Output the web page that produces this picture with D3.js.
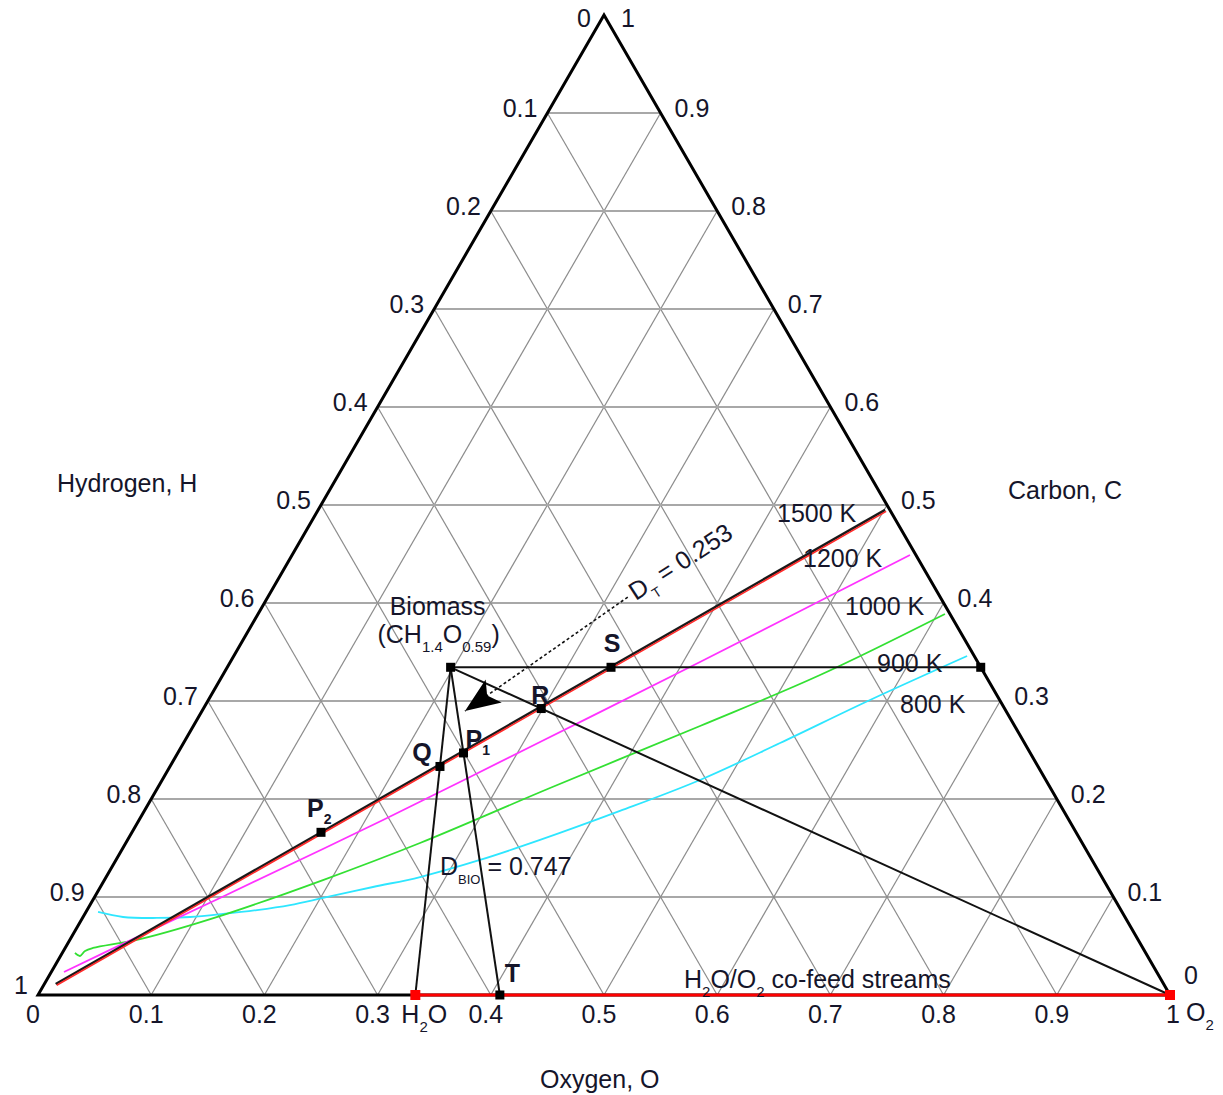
<!DOCTYPE html>
<html>
<head>
<meta charset="utf-8">
<script src="https://cdn.jsdelivr.net/npm/d3@7"></script>
<style>
  body { margin: 0; background: #fff; }
  svg { display: block; }
  text { font-family: "Liberation Sans", Arial, sans-serif; fill: #15152a; }
</style>
</head>
<body>
<svg id="chart" width="1223" height="1095"></svg>
<script>
// Ternary C–H–O diagram. Every point is [O fraction, C fraction]; H = 1 - O - C.

const gridSteps = [0.1, 0.2, 0.3, 0.4, 0.5, 0.6, 0.7, 0.8, 0.9];
const tickValues = [0, 0.1, 0.2, 0.3, 0.4, 0.5, 0.6, 0.7, 0.8, 0.9, 1];
const tickLabels = ["0", "0.1", "0.2", "0.3", "0.4", "0.5", "0.6", "0.7", "0.8", "0.9", "1"];

// carbon-deposition boundaries at several temperatures
const tempLabels = ["1500 K", "1200 K", "1000 K", "900 K", "800 K"];
const curve1500 = [[0.0100, 0.0112], [0.5008, 0.4950]];
const curve1200 = [[0.0115, 0.0100], [0.5025, 0.4935]];
const curve1000 = [[0.0112, 0.0235], [0.0579, 0.0592], [0.1113, 0.0990], [0.2155, 0.1786],
                   [0.3144, 0.2582], [0.4149, 0.3398], [0.5458, 0.4490]];
const curve900 = [[0.0112, 0.0429], [0.0172, 0.0398], [0.0191, 0.0449], [0.0246, 0.0480],
                  [0.0616, 0.0571], [0.1226, 0.0816], [0.1931, 0.1173], [0.2599, 0.1551],
                  [0.3467, 0.2112], [0.4476, 0.2745], [0.5276, 0.3265], [0.6068, 0.3888]];
const curve800 = [[0.0107, 0.0847], [0.0353, 0.0796], [0.0658, 0.0786], [0.0945, 0.0796],
                  [0.1221, 0.0827], [0.1501, 0.0867], [0.1767, 0.0918], [0.2023, 0.0990],
                  [0.2408, 0.1102], [0.2773, 0.1204], [0.3216, 0.1378], [0.3644, 0.1582],
                  [0.4202, 0.1878], [0.4751, 0.2194], [0.5270, 0.2571], [0.5845, 0.3010],
                  [0.6478, 0.3459]];

// feed compositions and construction points
const biomass = [0.1973, 0.3344];          // CH1.4O0.59
const pointS = [0.3390, 0.3344];
const pointR = [0.2984, 0.2923];
const pointQ = [0.2385, 0.2332];
const pointP1 = [0.2524, 0.2470];
const pointP2 = [0.1670, 0.1660];
const pointT = [0.4080, 0];
const edgeC = [0.6656, 0.3344];
const water = [1 / 3, 0];
const oxygen = [1, 0];
const dtArrow = [[0.3180, 0.4060], [0.2323, 0.2898]];
const distanceT = "0.253";
const distanceBio = "0.747";

const svg = d3.select("#chart");

// O runs along the base, C is the height above it
const xScale = d3.scaleLinear().domain([0, 1]).range([38, 1170]);
const yScale = d3.scaleLinear().domain([0, 1]).range([995, 15]);
const px = d => xScale(d[0] + d[1] / 2);
const py = d => yScale(d[1]);
const line = d3.line().x(px).y(py);
const smooth = d3.line().x(px).y(py).curve(d3.curveCatmullRom.alpha(0.5));

// grid
const grid = svg.append("g").attr("fill", "none");
gridSteps.forEach(v => {
  grid.append("path").attr("d", line([[0, v], [1 - v, v]]))
    .attr("stroke", "#a8a8a8").attr("stroke-width", 2);
  grid.append("path").attr("d", line([[v, 0], [v, 1 - v]]))
    .attr("stroke", "#8c8c8c").attr("stroke-width", 1.2);
  grid.append("path").attr("d", line([[1 - v, 0], [0, 1 - v]]))
    .attr("stroke", "#8c8c8c").attr("stroke-width", 1.2);
});

// outline
svg.append("path")
  .attr("d", line([[0, 0], [1, 0], [0, 1]]) + "Z")
  .attr("fill", "none").attr("stroke", "#000").attr("stroke-width", 3)
  .attr("stroke-linejoin", "miter");

// temperature curves
const curves = svg.append("g").attr("fill", "none");
curves.append("path").attr("d", smooth(curve800)).attr("stroke", "#2ee6ff").attr("stroke-width", 1.8);
curves.append("path").attr("d", smooth(curve900)).attr("stroke", "#33e033").attr("stroke-width", 1.8);
curves.append("path").attr("d", smooth(curve1000)).attr("stroke", "#ff33ff").attr("stroke-width", 1.8);
curves.append("path").attr("d", line(curve1500)).attr("stroke", "#1a1a1a").attr("stroke-width", 2.4);
curves.append("path").attr("d", line(curve1200)).attr("stroke", "#ff2a2a").attr("stroke-width", 1.6);

// construction lines from the biomass point
const cons = svg.append("g").attr("fill", "none").attr("stroke", "#111").attr("stroke-width", 2);
[water, pointT, oxygen, edgeC].forEach(p => cons.append("path").attr("d", line([biomass, p])));

// H2O/O2 co-feed streams along the base
svg.append("path").attr("d", line([water, oxygen]))
  .attr("fill", "none").attr("stroke", "#ff0000").attr("stroke-width", 3.2);

// dotted D_T arrow
svg.append("path").attr("d", line(dtArrow))
  .attr("fill", "none").attr("stroke", "#111").attr("stroke-width", 1.6)
  .attr("stroke-dasharray", "3,2.5");
{
  const a = [px(dtArrow[0]), py(dtArrow[0])];
  const b = [px(dtArrow[1]), py(dtArrow[1])];
  const len = Math.hypot(b[0] - a[0], b[1] - a[1]);
  const u = [(b[0] - a[0]) / len, (b[1] - a[1]) / len];
  const n = [-u[1], u[0]];
  const L = 35, hw = 14, notch = 27;
  const pts = [
    b,
    [b[0] - L * u[0] + hw * n[0], b[1] - L * u[1] + hw * n[1]],
    [b[0] - notch * u[0], b[1] - notch * u[1]],
    [b[0] - L * u[0] - hw * n[0], b[1] - L * u[1] - hw * n[1]]
  ];
  svg.append("path").attr("d", "M" + pts.map(p => p.join(",")).join("L") + "Z").attr("fill", "#000");
}

// markers
const sq = (p, s, color) => svg.append("rect")
  .attr("x", px(p) - s / 2).attr("y", py(p) - s / 2)
  .attr("width", s).attr("height", s).attr("fill", color);
[biomass, pointS, pointR, pointQ, pointP1, pointP2, pointT, edgeC].forEach(p => sq(p, 9, "#000"));
[water, oxygen].forEach(p => sq(p, 10, "#ff0000"));

// tick labels
const fs = 25;
const lab = svg.append("g").attr("font-size", fs);
tickValues.forEach((v, i) => {
  // oxygen along the base
  lab.append("text").attr("x", xScale(v) + (v === 1 ? 3 : -5)).attr("y", 1023)
    .attr("text-anchor", "middle").text(tickLabels[i]);
  // hydrogen on the left edge
  const hp = [0, 1 - v];
  lab.append("text").attr("x", px(hp) - (v === 0 ? 13 : 10))
    .attr("y", py(hp) + (v === 1 ? -1 : v === 0 ? 12 : 4))
    .attr("text-anchor", "end").text(tickLabels[i]);
  // carbon on the right edge
  const cp = [1 - v, v];
  lab.append("text").attr("x", px(cp) + (v === 1 ? 17 : 14))
    .attr("y", py(cp) + (v === 0 ? -11 : v === 1 ? 12 : 4))
    .attr("text-anchor", "start").text(tickLabels[i]);
});

// axis titles
lab.append("text").attr("x", 57).attr("y", 492).text("Hydrogen, H");
lab.append("text").attr("x", 1008).attr("y", 499).text("Carbon, C");
lab.append("text").attr("x", 540).attr("y", 1088).text("Oxygen, O");

// text with subscripted parts: [string, isSubscript, size]
function sub(g, x, y, parts, anchor) {
  const t = g.append("text").attr("x", x).attr("y", y).attr("text-anchor", anchor || "start");
  let shift = 0;
  parts.forEach(([s, isSub, size]) => {
    const target = isSub ? 9 : 0;
    t.append("tspan").attr("font-size", isSub ? (size || 15) : fs)
      .attr("dy", target - shift).text(s);
    shift = target;
  });
  return t;
}
sub(lab, px(water) - 14, 1023, [["H"], ["2", true, 15], ["O"]]);
sub(lab, px(oxygen) + 16, 1021, [["O"], ["2", true, 15]]);
sub(lab, 684, 988, [["H"], ["2", true, 15], ["O/O"], ["2", true, 15], [" co-feed streams"]]);

lab.append("text").attr("x", px(biomass) - 13).attr("y", py(biomass) - 52)
  .attr("text-anchor", "middle").text("Biomass");
sub(lab, px(biomass) - 12, py(biomass) - 24,
  [["(CH"], ["1.4", true, 15], ["O"], ["0.59", true, 15], [")"]], "middle");

// temperature labels
const tempPos = [[777, 522], [803, 567], [845, 615], [877, 672], [900, 713]];
tempLabels.forEach((t, i) => lab.append("text").attr("x", tempPos[i][0]).attr("y", tempPos[i][1]).text(t));

// distance labels
sub(lab, 440, 875, [["D"], ["BIO", true, 13], [" = " + distanceBio]]);
{
  const t = sub(svg.append("g").attr("font-size", fs), 0, 0, [["D"], ["T", true, 14], [" = " + distanceT]]);
  t.attr("transform", `translate(${px(dtArrow[0]) + 8},${py(dtArrow[0]) + 4}) rotate(-33)`);
}

// point letters
const bold = svg.append("g").attr("font-size", fs).attr("font-weight", "bold");
bold.append("text").attr("x", px(pointS) + 1).attr("y", py(pointS) - 15).attr("text-anchor", "middle").text("S");
bold.append("text").attr("x", px(pointR) - 1).attr("y", py(pointR) - 5).attr("text-anchor", "middle").text("R");
bold.append("text").attr("x", px(pointQ) - 18).attr("y", py(pointQ) - 5).attr("text-anchor", "middle").text("Q");
bold.append("text").attr("x", px(pointT) + 5).attr("y", py(pointT) - 13).text("T");
{
  const t = bold.append("text").attr("x", px(pointP1) + 2).attr("y", py(pointP1) - 5);
  t.append("tspan").text("P");
  t.append("tspan").attr("font-size", 14).attr("dy", 7).text("1");
  const t2 = bold.append("text").attr("x", px(pointP2) - 14).attr("y", py(pointP2) - 15);
  t2.append("tspan").text("P");
  t2.append("tspan").attr("font-size", 14).attr("dy", 7).text("2");
}
</script>
</body>
</html>
